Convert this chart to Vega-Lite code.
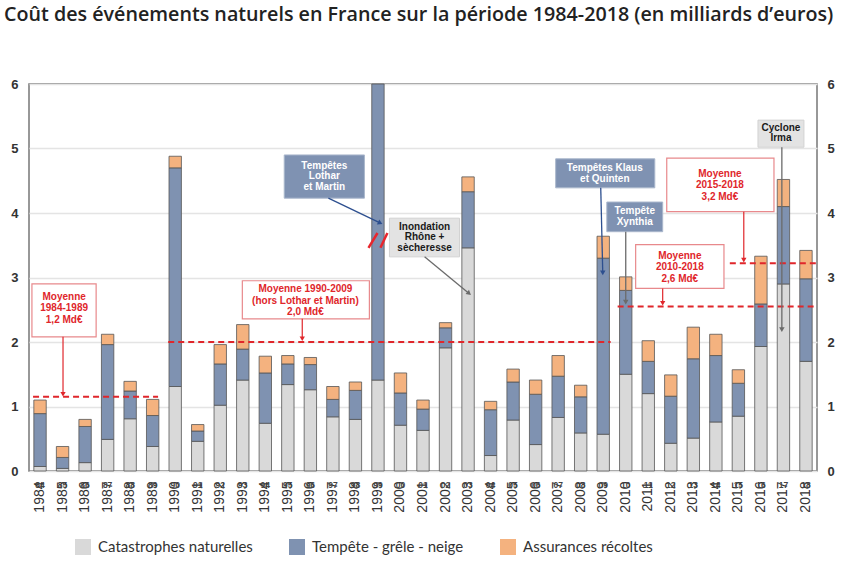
{
  "$schema": "https://vega.github.io/schema/vega-lite/v6.json",
  "width": 788,
  "height": 387,
  "autosize": "none",
  "padding": {"left": 29, "top": 84, "right": 34, "bottom": 97},
  "background": "white",
  "title": {
    "text": "Coût des événements naturels en France sur la période 1984-2018 (en milliards d’euros)",
    "anchor": "start",
    "frame": "group",
    "dx": -25,
    "offset": 53,
    "font": "Open Sans",
    "fontSize": 19.7,
    "fontWeight": 600,
    "color": "#222222"
  },
  "config": {
    "view": {"stroke": "#777777", "strokeWidth": 1.5},
    "font": "Liberation Sans"
  },
  "datasets": {
    "couts": [
      {"annee": "1984", "categorie": "Catastrophes naturelles", "valeur": 0.07},
      {"annee": "1984", "categorie": "Tempête - grêle - neige", "valeur": 0.82},
      {"annee": "1984", "categorie": "Assurances récoltes", "valeur": 0.21},
      {"annee": "1985", "categorie": "Catastrophes naturelles", "valeur": 0.04},
      {"annee": "1985", "categorie": "Tempête - grêle - neige", "valeur": 0.17},
      {"annee": "1985", "categorie": "Assurances récoltes", "valeur": 0.17},
      {"annee": "1986", "categorie": "Catastrophes naturelles", "valeur": 0.13},
      {"annee": "1986", "categorie": "Tempête - grêle - neige", "valeur": 0.56},
      {"annee": "1986", "categorie": "Assurances récoltes", "valeur": 0.11},
      {"annee": "1987", "categorie": "Catastrophes naturelles", "valeur": 0.49},
      {"annee": "1987", "categorie": "Tempête - grêle - neige", "valeur": 1.47},
      {"annee": "1987", "categorie": "Assurances récoltes", "valeur": 0.16},
      {"annee": "1988", "categorie": "Catastrophes naturelles", "valeur": 0.81},
      {"annee": "1988", "categorie": "Tempête - grêle - neige", "valeur": 0.43},
      {"annee": "1988", "categorie": "Assurances récoltes", "valeur": 0.15},
      {"annee": "1989", "categorie": "Catastrophes naturelles", "valeur": 0.38},
      {"annee": "1989", "categorie": "Tempête - grêle - neige", "valeur": 0.48},
      {"annee": "1989", "categorie": "Assurances récoltes", "valeur": 0.25},
      {"annee": "1990", "categorie": "Catastrophes naturelles", "valeur": 1.31},
      {"annee": "1990", "categorie": "Tempête - grêle - neige", "valeur": 3.39},
      {"annee": "1990", "categorie": "Assurances récoltes", "valeur": 0.18},
      {"annee": "1991", "categorie": "Catastrophes naturelles", "valeur": 0.46},
      {"annee": "1991", "categorie": "Tempête - grêle - neige", "valeur": 0.16},
      {"annee": "1991", "categorie": "Assurances récoltes", "valeur": 0.10},
      {"annee": "1992", "categorie": "Catastrophes naturelles", "valeur": 1.02},
      {"annee": "1992", "categorie": "Tempête - grêle - neige", "valeur": 0.64},
      {"annee": "1992", "categorie": "Assurances récoltes", "valeur": 0.30},
      {"annee": "1993", "categorie": "Catastrophes naturelles", "valeur": 1.41},
      {"annee": "1993", "categorie": "Tempête - grêle - neige", "valeur": 0.48},
      {"annee": "1993", "categorie": "Assurances récoltes", "valeur": 0.38},
      {"annee": "1994", "categorie": "Catastrophes naturelles", "valeur": 0.74},
      {"annee": "1994", "categorie": "Tempête - grêle - neige", "valeur": 0.78},
      {"annee": "1994", "categorie": "Assurances récoltes", "valeur": 0.26},
      {"annee": "1995", "categorie": "Catastrophes naturelles", "valeur": 1.34},
      {"annee": "1995", "categorie": "Tempête - grêle - neige", "valeur": 0.32},
      {"annee": "1995", "categorie": "Assurances récoltes", "valeur": 0.13},
      {"annee": "1996", "categorie": "Catastrophes naturelles", "valeur": 1.26},
      {"annee": "1996", "categorie": "Tempête - grêle - neige", "valeur": 0.39},
      {"annee": "1996", "categorie": "Assurances récoltes", "valeur": 0.11},
      {"annee": "1997", "categorie": "Catastrophes naturelles", "valeur": 0.84},
      {"annee": "1997", "categorie": "Tempête - grêle - neige", "valeur": 0.27},
      {"annee": "1997", "categorie": "Assurances récoltes", "valeur": 0.20},
      {"annee": "1998", "categorie": "Catastrophes naturelles", "valeur": 0.80},
      {"annee": "1998", "categorie": "Tempête - grêle - neige", "valeur": 0.45},
      {"annee": "1998", "categorie": "Assurances récoltes", "valeur": 0.13},
      {"annee": "1999", "categorie": "Catastrophes naturelles", "valeur": 1.41},
      {"annee": "1999", "categorie": "Tempête - grêle - neige", "valeur": 4.59},
      {"annee": "2000", "categorie": "Catastrophes naturelles", "valeur": 0.71},
      {"annee": "2000", "categorie": "Tempête - grêle - neige", "valeur": 0.50},
      {"annee": "2000", "categorie": "Assurances récoltes", "valeur": 0.31},
      {"annee": "2001", "categorie": "Catastrophes naturelles", "valeur": 0.63},
      {"annee": "2001", "categorie": "Tempête - grêle - neige", "valeur": 0.33},
      {"annee": "2001", "categorie": "Assurances récoltes", "valeur": 0.14},
      {"annee": "2002", "categorie": "Catastrophes naturelles", "valeur": 1.91},
      {"annee": "2002", "categorie": "Tempête - grêle - neige", "valeur": 0.31},
      {"annee": "2002", "categorie": "Assurances récoltes", "valeur": 0.08},
      {"annee": "2003", "categorie": "Catastrophes naturelles", "valeur": 3.46},
      {"annee": "2003", "categorie": "Tempête - grêle - neige", "valeur": 0.87},
      {"annee": "2003", "categorie": "Assurances récoltes", "valeur": 0.23},
      {"annee": "2004", "categorie": "Catastrophes naturelles", "valeur": 0.24},
      {"annee": "2004", "categorie": "Tempête - grêle - neige", "valeur": 0.71},
      {"annee": "2004", "categorie": "Assurances récoltes", "valeur": 0.13},
      {"annee": "2005", "categorie": "Catastrophes naturelles", "valeur": 0.79},
      {"annee": "2005", "categorie": "Tempête - grêle - neige", "valeur": 0.59},
      {"annee": "2005", "categorie": "Assurances récoltes", "valeur": 0.20},
      {"annee": "2006", "categorie": "Catastrophes naturelles", "valeur": 0.41},
      {"annee": "2006", "categorie": "Tempête - grêle - neige", "valeur": 0.78},
      {"annee": "2006", "categorie": "Assurances récoltes", "valeur": 0.22},
      {"annee": "2007", "categorie": "Catastrophes naturelles", "valeur": 0.83},
      {"annee": "2007", "categorie": "Tempête - grêle - neige", "valeur": 0.64},
      {"annee": "2007", "categorie": "Assurances récoltes", "valeur": 0.32},
      {"annee": "2008", "categorie": "Catastrophes naturelles", "valeur": 0.59},
      {"annee": "2008", "categorie": "Tempête - grêle - neige", "valeur": 0.56},
      {"annee": "2008", "categorie": "Assurances récoltes", "valeur": 0.18},
      {"annee": "2009", "categorie": "Catastrophes naturelles", "valeur": 0.57},
      {"annee": "2009", "categorie": "Tempête - grêle - neige", "valeur": 2.73},
      {"annee": "2009", "categorie": "Assurances récoltes", "valeur": 0.34},
      {"annee": "2010", "categorie": "Catastrophes naturelles", "valeur": 1.50},
      {"annee": "2010", "categorie": "Tempête - grêle - neige", "valeur": 1.30},
      {"annee": "2010", "categorie": "Assurances récoltes", "valeur": 0.21},
      {"annee": "2011", "categorie": "Catastrophes naturelles", "valeur": 1.20},
      {"annee": "2011", "categorie": "Tempête - grêle - neige", "valeur": 0.50},
      {"annee": "2011", "categorie": "Assurances récoltes", "valeur": 0.32},
      {"annee": "2012", "categorie": "Catastrophes naturelles", "valeur": 0.43},
      {"annee": "2012", "categorie": "Tempête - grêle - neige", "valeur": 0.73},
      {"annee": "2012", "categorie": "Assurances récoltes", "valeur": 0.33},
      {"annee": "2013", "categorie": "Catastrophes naturelles", "valeur": 0.51},
      {"annee": "2013", "categorie": "Tempête - grêle - neige", "valeur": 1.23},
      {"annee": "2013", "categorie": "Assurances récoltes", "valeur": 0.49},
      {"annee": "2014", "categorie": "Catastrophes naturelles", "valeur": 0.76},
      {"annee": "2014", "categorie": "Tempête - grêle - neige", "valeur": 1.03},
      {"annee": "2014", "categorie": "Assurances récoltes", "valeur": 0.33},
      {"annee": "2015", "categorie": "Catastrophes naturelles", "valeur": 0.85},
      {"annee": "2015", "categorie": "Tempête - grêle - neige", "valeur": 0.51},
      {"annee": "2015", "categorie": "Assurances récoltes", "valeur": 0.21},
      {"annee": "2016", "categorie": "Catastrophes naturelles", "valeur": 1.93},
      {"annee": "2016", "categorie": "Tempête - grêle - neige", "valeur": 0.66},
      {"annee": "2016", "categorie": "Assurances récoltes", "valeur": 0.74},
      {"annee": "2017", "categorie": "Catastrophes naturelles", "valeur": 2.90},
      {"annee": "2017", "categorie": "Tempête - grêle - neige", "valeur": 1.20},
      {"annee": "2017", "categorie": "Assurances récoltes", "valeur": 0.42},
      {"annee": "2018", "categorie": "Catastrophes naturelles", "valeur": 1.70},
      {"annee": "2018", "categorie": "Tempête - grêle - neige", "valeur": 1.28},
      {"annee": "2018", "categorie": "Assurances récoltes", "valeur": 0.44}
    ],
    "annees": [
      {"annee": "1984", "abrege": "84"}, {"annee": "1985", "abrege": "85"}, {"annee": "1986", "abrege": "86"},
      {"annee": "1987", "abrege": "87"}, {"annee": "1988", "abrege": "88"}, {"annee": "1989", "abrege": "89"},
      {"annee": "1990", "abrege": "90"}, {"annee": "1991", "abrege": "91"}, {"annee": "1992", "abrege": "92"},
      {"annee": "1993", "abrege": "93"}, {"annee": "1994", "abrege": "94"}, {"annee": "1995", "abrege": "95"},
      {"annee": "1996", "abrege": "96"}, {"annee": "1997", "abrege": "97"}, {"annee": "1998", "abrege": "98"},
      {"annee": "1999", "abrege": "99"}, {"annee": "2000", "abrege": "00"}, {"annee": "2001", "abrege": "01"},
      {"annee": "2002", "abrege": "02"}, {"annee": "2003", "abrege": "03"}, {"annee": "2004", "abrege": "04"},
      {"annee": "2005", "abrege": "05"}, {"annee": "2006", "abrege": "06"}, {"annee": "2007", "abrege": "07"},
      {"annee": "2008", "abrege": "08"}, {"annee": "2009", "abrege": "09"}, {"annee": "2010", "abrege": "10"},
      {"annee": "2011", "abrege": "11"}, {"annee": "2012", "abrege": "12"}, {"annee": "2013", "abrege": "13"},
      {"annee": "2014", "abrege": "14"}, {"annee": "2015", "abrege": "15"}, {"annee": "2016", "abrege": "16"},
      {"annee": "2017", "abrege": "17"}, {"annee": "2018", "abrege": "18"}
    ],
    "moyennes": [
      {"periode": "1984-1989", "debut": 1983.69, "fin": 1989.24, "valeur": 1.15},
      {"periode": "1990-2009", "debut": 1989.69, "fin": 2009.33, "valeur": 2.0},
      {"periode": "2010-2018", "debut": 2009.64, "fin": 2018.44, "valeur": 2.55},
      {"periode": "2015-2018", "debut": 2014.62, "fin": 2018.44, "valeur": 3.22}
    ],
    "notes": [
      {"nom": "M1", "type": "moyenne", "texte": "Moyenne\n1984-1989\n1,2 Md€", "x0": 1983.64, "x1": 1986.49, "y0": 2.08, "y1": 2.90, "xt": 1985.07, "yt": 2.70},
      {"nom": "M2", "type": "moyenne", "texte": "Moyenne 1990-2009\n(hors Lothar et Martin)\n2,0 Md€", "x0": 1992.98, "x1": 1998.62, "y0": 2.36, "y1": 2.95, "xt": 1995.78, "yt": 2.82},
      {"nom": "M3", "type": "moyenne", "texte": "Moyenne\n2010-2018\n2,6 Md€", "x0": 2010.44, "x1": 2014.36, "y0": 2.83, "y1": 3.51, "xt": 2012.40, "yt": 3.34},
      {"nom": "M4", "type": "moyenne", "texte": "Moyenne\n2015-2018\n3,2 Md€", "x0": 2011.82, "x1": 2016.58, "y0": 4.02, "y1": 4.85, "xt": 2014.18, "yt": 4.61},
      {"nom": "Lothar", "type": "tempete", "texte": "Tempêtes\nLothar\net Martin", "x0": 1994.84, "x1": 1998.40, "y0": 4.23, "y1": 4.90, "xt": 1996.62, "yt": 4.73},
      {"nom": "Klaus", "type": "tempete", "texte": "Tempêtes Klaus\net Quinten", "x0": 2006.89, "x1": 2011.29, "y0": 4.39, "y1": 4.84, "xt": 2009.07, "yt": 4.69},
      {"nom": "Xynthia", "type": "tempete", "texte": "Tempête\nXynthia", "x0": 2009.16, "x1": 2011.64, "y0": 3.71, "y1": 4.17, "xt": 2010.40, "yt": 4.03},
      {"nom": "Inondation", "type": "evenement", "texte": "Inondation\nRhône +\nsècheresse", "x0": 1999.51, "x1": 2002.62, "y0": 3.32, "y1": 3.92, "xt": 2001.07, "yt": 3.79},
      {"nom": "Irma", "type": "evenement", "texte": "Cyclone\nIrma", "x0": 2015.87, "x1": 2017.91, "y0": 5.02, "y1": 5.44, "xt": 2016.89, "yt": 5.32}
    ],
    "fleches": [
      {"nom": "M1", "type": "moyenne", "xa": 1985.02, "ya": 2.08, "xb": 1985.02, "yb": 1.19},
      {"nom": "M2", "type": "moyenne", "xa": 1995.64, "ya": 2.36, "xb": 1995.64, "yb": 2.05},
      {"nom": "M3", "type": "moyenne", "xa": 2011.64, "ya": 2.83, "xb": 2011.64, "yb": 2.60},
      {"nom": "M4", "type": "moyenne", "xa": 2015.24, "ya": 4.02, "xb": 2015.24, "yb": 3.27},
      {"nom": "Lothar", "type": "tempete", "xa": 1996.80, "ya": 4.23, "xb": 1999.07, "yb": 3.85},
      {"nom": "Klaus", "type": "tempete", "xa": 2008.89, "ya": 4.39, "xb": 2008.98, "yb": 3.07},
      {"nom": "Xynthia", "type": "evenement", "xa": 2010.0, "ya": 3.71, "xb": 2010.0, "yb": 2.62},
      {"nom": "Inondation", "type": "evenement", "xa": 2001.07, "ya": 3.32, "xb": 2003.02, "yb": 2.76},
      {"nom": "Irma", "type": "evenement", "xa": 2016.93, "ya": 5.02, "xb": 2016.93, "yb": 2.19}
    ],
    "cassure": [
      {"trait": 1, "xa": 1998.58, "ya": 3.46, "xb": 1998.98, "yb": 3.69},
      {"trait": 2, "xa": 1999.11, "ya": 3.46, "xb": 1999.42, "yb": 3.69}
    ]
  },
  "resolve": {"scale": {"x": "independent"}, "axis": {"y": "independent", "x": "independent"}},
  "layer": [
    {
      "layer": [
        {
          "data": {"name": "couts"},
          "transform": [
            {"calculate": "indexof(['Catastrophes naturelles', 'Tempête - grêle - neige', 'Assurances récoltes'], datum.categorie)", "as": "rang"}
          ],
          "mark": {"type": "bar", "stroke": "#555555", "strokeWidth": 0.8},
          "encoding": {
            "x": {
              "field": "annee", "type": "ordinal",
              "scale": {"paddingInner": 0.45, "paddingOuter": 0.215},
              "axis": {
                "title": null, "labelAngle": -90, "labelFont": "Liberation Sans", "labelFontSize": 14,
                "labelColor": "#333333", "labelPadding": 10, "ticks": false, "domain": false
              }
            },
            "y": {
              "field": "valeur", "type": "quantitative", "stack": "zero",
              "scale": {"domain": [0, 6], "nice": false},
              "axis": {
                "title": null, "orient": "left", "values": [0, 1, 2, 3, 4, 5, 6], "format": "d",
                "labelFont": "Liberation Sans", "labelFontSize": 13, "labelFontWeight": "bold",
                "labelColor": "#333333", "labelPadding": 11, "ticks": false, "domain": false,
                "grid": true, "gridColor": "#e4e4e4", "gridWidth": 1.5
              }
            },
            "order": {"field": "rang", "type": "quantitative", "sort": "ascending"},
            "color": {
              "field": "categorie", "type": "nominal",
              "scale": {
                "domain": ["Catastrophes naturelles", "Tempête - grêle - neige", "Assurances récoltes"],
                "range": ["#d9d9d9", "#7f92b1", "#f4b27f"]
              },
              "legend": {
                "orient": "none", "legendX": 46, "legendY": 455, "direction": "horizontal", "title": null,
                "symbolType": "square", "symbolSize": 256, "symbolStrokeWidth": 0,
                "labelFont": "Lato", "labelFontSize": 15, "labelColor": "#333333",
                "labelOffset": 7, "columnPadding": 36
              }
            }
          }
        },
        {
          "data": {"name": "annees"},
          "mark": {"type": "text", "fontSize": 8.5, "fontWeight": "bold", "color": "#444444", "baseline": "middle"},
          "encoding": {
            "x": {"field": "annee", "type": "ordinal"},
            "y": {"datum": -0.21, "type": "quantitative", "scale": {"domain": [0, 6], "nice": false}},
            "text": {"field": "abrege"}
          }
        }
      ]
    },
    {
      "layer": [
        {
          "data": {"name": "moyennes"},
          "mark": {"type": "rule", "color": "#e0262b", "strokeWidth": 2, "strokeDash": [6, 4]},
          "encoding": {
            "x": {"field": "debut", "type": "quantitative", "scale": {"domain": [1983.51, 2018.49], "nice": false, "zero": false}, "axis": null},
            "x2": {"field": "fin"},
            "y": {
              "field": "valeur", "type": "quantitative", "scale": {"domain": [0, 6], "nice": false},
              "axis": {
                "title": null, "orient": "right", "values": [0, 1, 2, 3, 4, 5, 6], "format": "d",
                "labelFont": "Liberation Sans", "labelFontSize": 13, "labelFontWeight": "bold",
                "labelColor": "#333333", "labelPadding": 10, "ticks": false, "domain": false, "grid": false
              }
            }
          }
        },
        {
          "data": {"name": "notes"},
          "transform": [{"filter": "datum.type === 'moyenne'"}],
          "mark": {"type": "rect", "fill": "white", "stroke": "#e8898c", "strokeWidth": 1.2},
          "encoding": {
            "x": {"field": "x0", "type": "quantitative", "scale": {"domain": [1983.51, 2018.49], "nice": false, "zero": false}, "axis": null},
            "x2": {"field": "x1"},
            "y": {"field": "y0", "type": "quantitative", "scale": {"domain": [0, 6], "nice": false}},
            "y2": {"field": "y1"}
          }
        },
        {
          "data": {"name": "notes"},
          "transform": [{"filter": "datum.type === 'tempete'"}],
          "mark": {"type": "rect", "fill": "#7f92b2", "stroke": "#aab7cc", "strokeWidth": 1},
          "encoding": {
            "x": {"field": "x0", "type": "quantitative", "scale": {"domain": [1983.51, 2018.49], "nice": false, "zero": false}, "axis": null},
            "x2": {"field": "x1"},
            "y": {"field": "y0", "type": "quantitative", "scale": {"domain": [0, 6], "nice": false}},
            "y2": {"field": "y1"}
          }
        },
        {
          "data": {"name": "notes"},
          "transform": [{"filter": "datum.type === 'evenement'"}],
          "mark": {"type": "rect", "fill": "#e3e3e3", "stroke": "#d2d2d2", "strokeWidth": 1},
          "encoding": {
            "x": {"field": "x0", "type": "quantitative", "scale": {"domain": [1983.51, 2018.49], "nice": false, "zero": false}, "axis": null},
            "x2": {"field": "x1"},
            "y": {"field": "y0", "type": "quantitative", "scale": {"domain": [0, 6], "nice": false}},
            "y2": {"field": "y1"}
          }
        },
        {
          "data": {"name": "fleches"},
          "transform": [{"filter": "datum.type === 'moyenne'"}],
          "mark": {"type": "rule", "color": "#e0262b", "strokeWidth": 1.2},
          "encoding": {
            "x": {"field": "xa", "type": "quantitative", "scale": {"domain": [1983.51, 2018.49], "nice": false, "zero": false}, "axis": null},
            "x2": {"field": "xb"},
            "y": {"field": "ya", "type": "quantitative", "scale": {"domain": [0, 6], "nice": false}},
            "y2": {"field": "yb"}
          }
        },
        {
          "data": {"name": "fleches"},
          "transform": [{"filter": "datum.type === 'tempete'"}],
          "mark": {"type": "rule", "color": "#2d4f8f", "strokeWidth": 1.3},
          "encoding": {
            "x": {"field": "xa", "type": "quantitative", "scale": {"domain": [1983.51, 2018.49], "nice": false, "zero": false}, "axis": null},
            "x2": {"field": "xb"},
            "y": {"field": "ya", "type": "quantitative", "scale": {"domain": [0, 6], "nice": false}},
            "y2": {"field": "yb"}
          }
        },
        {
          "data": {"name": "fleches"},
          "transform": [{"filter": "datum.type === 'evenement'"}],
          "mark": {"type": "rule", "color": "#6b6b6b", "strokeWidth": 1.3},
          "encoding": {
            "x": {"field": "xa", "type": "quantitative", "scale": {"domain": [1983.51, 2018.49], "nice": false, "zero": false}, "axis": null},
            "x2": {"field": "xb"},
            "y": {"field": "ya", "type": "quantitative", "scale": {"domain": [0, 6], "nice": false}},
            "y2": {"field": "yb"}
          }
        },
        {
          "data": {"name": "fleches"},
          "transform": [{"filter": "datum.type === 'moyenne'"}],
          "mark": {"type": "point", "shape": "triangle-down", "filled": true, "color": "#e0262b", "size": 28, "opacity": 1},
          "encoding": {
            "x": {"field": "xb", "type": "quantitative", "scale": {"domain": [1983.51, 2018.49], "nice": false, "zero": false}, "axis": null},
            "y": {"field": "yb", "type": "quantitative", "scale": {"domain": [0, 6], "nice": false}}
          }
        },
        {
          "data": {"name": "fleches"},
          "transform": [{"filter": "datum.nom === 'Klaus'"}],
          "mark": {"type": "point", "shape": "triangle-down", "filled": true, "color": "#2d4f8f", "size": 30, "opacity": 1},
          "encoding": {
            "x": {"field": "xb", "type": "quantitative", "scale": {"domain": [1983.51, 2018.49], "nice": false, "zero": false}, "axis": null},
            "y": {"field": "yb", "type": "quantitative", "scale": {"domain": [0, 6], "nice": false}}
          }
        },
        {
          "data": {"name": "fleches"},
          "transform": [{"filter": "datum.nom === 'Lothar'"}],
          "mark": {"type": "point", "shape": "triangle", "angle": 116, "filled": true, "color": "#2d4f8f", "size": 30, "opacity": 1},
          "encoding": {
            "x": {"field": "xb", "type": "quantitative", "scale": {"domain": [1983.51, 2018.49], "nice": false, "zero": false}, "axis": null},
            "y": {"field": "yb", "type": "quantitative", "scale": {"domain": [0, 6], "nice": false}}
          }
        },
        {
          "data": {"name": "fleches"},
          "transform": [{"filter": "datum.nom === 'Xynthia' || datum.nom === 'Irma'"}],
          "mark": {"type": "point", "shape": "triangle-down", "filled": true, "color": "#6b6b6b", "size": 30, "opacity": 1},
          "encoding": {
            "x": {"field": "xb", "type": "quantitative", "scale": {"domain": [1983.51, 2018.49], "nice": false, "zero": false}, "axis": null},
            "y": {"field": "yb", "type": "quantitative", "scale": {"domain": [0, 6], "nice": false}}
          }
        },
        {
          "data": {"name": "fleches"},
          "transform": [{"filter": "datum.nom === 'Inondation'"}],
          "mark": {"type": "point", "shape": "triangle", "angle": 129, "filled": true, "color": "#6b6b6b", "size": 30, "opacity": 1},
          "encoding": {
            "x": {"field": "xb", "type": "quantitative", "scale": {"domain": [1983.51, 2018.49], "nice": false, "zero": false}, "axis": null},
            "y": {"field": "yb", "type": "quantitative", "scale": {"domain": [0, 6], "nice": false}}
          }
        },
        {
          "data": {"name": "cassure"},
          "mark": {"type": "rule", "color": "#e8262d", "strokeWidth": 2.5},
          "encoding": {
            "x": {"field": "xa", "type": "quantitative", "scale": {"domain": [1983.51, 2018.49], "nice": false, "zero": false}, "axis": null},
            "x2": {"field": "xb"},
            "y": {"field": "ya", "type": "quantitative", "scale": {"domain": [0, 6], "nice": false}},
            "y2": {"field": "yb"}
          }
        },
        {
          "data": {"name": "notes"},
          "transform": [{"filter": "datum.type === 'moyenne'"}],
          "mark": {"type": "text", "font": "Liberation Sans", "fontSize": 10, "fontWeight": "bold", "color": "#e0262b", "lineBreak": "\n", "lineHeight": 11.5, "align": "center", "baseline": "middle"},
          "encoding": {
            "x": {"field": "xt", "type": "quantitative", "scale": {"domain": [1983.51, 2018.49], "nice": false, "zero": false}, "axis": null},
            "y": {"field": "yt", "type": "quantitative", "scale": {"domain": [0, 6], "nice": false}},
            "text": {"field": "texte"}
          }
        },
        {
          "data": {"name": "notes"},
          "transform": [{"filter": "datum.type === 'tempete'"}],
          "mark": {"type": "text", "font": "Liberation Sans", "fontSize": 10, "fontWeight": "bold", "color": "white", "lineBreak": "\n", "lineHeight": 10.5, "align": "center", "baseline": "middle"},
          "encoding": {
            "x": {"field": "xt", "type": "quantitative", "scale": {"domain": [1983.51, 2018.49], "nice": false, "zero": false}, "axis": null},
            "y": {"field": "yt", "type": "quantitative", "scale": {"domain": [0, 6], "nice": false}},
            "text": {"field": "texte"}
          }
        },
        {
          "data": {"name": "notes"},
          "transform": [{"filter": "datum.type === 'evenement'"}],
          "mark": {"type": "text", "font": "Liberation Sans", "fontSize": 10, "fontWeight": "bold", "color": "#1a1a1a", "lineBreak": "\n", "lineHeight": 10.5, "align": "center", "baseline": "middle"},
          "encoding": {
            "x": {"field": "xt", "type": "quantitative", "scale": {"domain": [1983.51, 2018.49], "nice": false, "zero": false}, "axis": null},
            "y": {"field": "yt", "type": "quantitative", "scale": {"domain": [0, 6], "nice": false}},
            "text": {"field": "texte"}
          }
        }
      ]
    }
  ]
}
